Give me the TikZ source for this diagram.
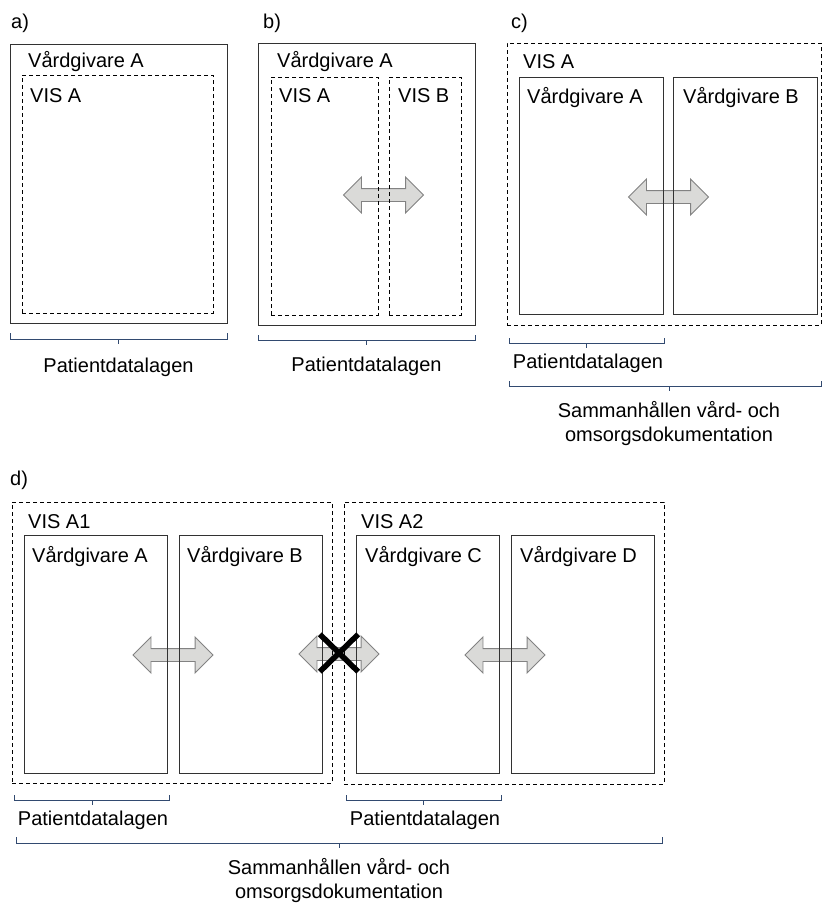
\documentclass[tikz,border=0pt]{standalone}
\usepackage{fontspec}
\setmainfont{Liberation Sans}
\usetikzlibrary{shapes.arrows}
\definecolor{boxline}{RGB}{50,50,50}
\definecolor{arrfill}{RGB}{218,218,216}
\definecolor{arrline}{RGB}{130,130,130}
\definecolor{brace}{RGB}{50,74,112}
\tikzset{
  solidbox/.style={draw=boxline, line width=1pt, inner sep=0pt, rectangle},
  dashbox/.style={draw=black, line width=0.9pt, dash pattern=on 4pt off 3pt, inner sep=0pt, rectangle},
  dblarr/.style={shape=double arrow, draw=arrline, fill=arrfill, line width=0.9pt, inner sep=6pt,
    double arrow head extend=11.5pt, minimum width=0pt, minimum height=80pt, double arrow tip angle=90},
  lbl/.style={inner sep=0pt, anchor=base west, font=\fontsize{20}{24}\selectfont},
  clbl/.style={inner sep=0pt, anchor=base, font=\fontsize{20}{24}\selectfont, align=center},
  bracepath/.style={draw=brace, line width=1pt},
  crossline/.style={draw=black, line width=5.5pt},
}
\newcommand{\mybrace}[5]{% x1 x2 xm ytop yline
  \draw[bracepath] (#1,#4) -- (#1,#5) -- (#2,#5) -- (#2,#4);
  \draw[bracepath] (#3,#5) -- (#3,#5+5);
}
\begin{document}
\begin{tikzpicture}[x=1pt,y=-1pt]
\useasboundingbox (0,0) rectangle (822,903);
% ---------- arrows (drawn first, boxes lie over them)
\node[dblarr] (barr) at (383.5,195) {};
\node[dblarr] (carr) at (668.5,197) {};
\node[dblarr] (dab) at (173,655) {};
\node[dblarr] (dbc) at (339,654) {};
\node[dblarr] (dcd) at (505,655) {};
% ---------- panel a
\node[lbl] (la) at (11,28) {a)};
\node[solidbox, minimum width=217pt, minimum height=279pt] (aout) at (118.5,183.5) {};
\node[dashbox, minimum width=191pt, minimum height=238pt] (avis) at (117.5,194) {};
\node[lbl] (aout-t) at (28,67) {Vårdgivare A};
\node[lbl] (avis-t) at (30,102) {VIS A};
\mybrace{10}{227}{118.5}{333}{339}
\node[clbl] (apdl) at (118.5,372) {Patientdatalagen};
% ---------- panel b
\node[lbl] (lb) at (263,28) {b)};
\node[solidbox, minimum width=217pt, minimum height=282pt] (bout) at (366.5,184) {};
\node[dashbox, minimum width=107pt, minimum height=238pt] (bvisa) at (324.5,196) {};
\node[dashbox, minimum width=72pt, minimum height=238pt] (bvisb) at (425,196) {};
\node[lbl] (bout-t) at (277,67) {Vårdgivare A};
\node[lbl] (bvisa-t) at (279,102) {VIS A};
\node[lbl] (bvisb-t) at (398,102) {VIS B};
\mybrace{258}{475}{366.5}{335}{340}
\node[clbl] (bpdl) at (366.5,371) {Patientdatalagen};
% ---------- panel c
\node[lbl] (lc) at (511,28) {c)};
\node[dashbox, minimum width=314pt, minimum height=282pt] (cvis) at (664,184) {};
\node[solidbox, minimum width=144pt, minimum height=237pt] (cva) at (591,195.5) {};
\node[solidbox, minimum width=144pt, minimum height=237pt] (cvb) at (745,195.5) {};
\node[lbl] (cvis-t) at (523,68) {VIS A};
\node[lbl] (cva-t) at (527,103) {Vårdgivare A};
\node[lbl] (cvb-t) at (683,103) {Vårdgivare B};
\mybrace{509}{664}{586.5}{338}{343}
\node[clbl] (cpdl) at (588,368) {Patientdatalagen};
\mybrace{509}{821}{669}{381}{386}
\node[clbl] (csvo1) at (669,417) {Sammanhållen vård- och};
\node[clbl] (csvo2) at (669,441) {omsorgsdokumentation};
% ---------- panel d
\node[lbl] (ld) at (10,485) {d)};
\node[dashbox, minimum width=320pt, minimum height=281pt] (dvis1) at (172,642.5) {};
\node[dashbox, minimum width=320pt, minimum height=282pt] (dvis2) at (504,643) {};
\node[solidbox, minimum width=143pt, minimum height=238pt] (dva) at (95.5,654) {};
\node[solidbox, minimum width=143pt, minimum height=238pt] (dvb) at (250.5,654) {};
\node[solidbox, minimum width=143pt, minimum height=238pt] (dvc) at (427.5,654) {};
\node[solidbox, minimum width=143pt, minimum height=238pt] (dvd) at (582.5,654) {};
\node[lbl] (dvis1-t) at (28,528) {VIS A1};
\node[lbl] (dvis2-t) at (361,528) {VIS A2};
\node[lbl] (dva-t) at (32,562) {Vårdgivare A};
\node[lbl] (dvb-t) at (187,562) {Vårdgivare B};
\node[lbl] (dvc-t) at (365,562) {Vårdgivare C};
\node[lbl] (dvd-t) at (520,562) {Vårdgivare D};
\node[inner sep=0pt, minimum width=38pt, minimum height=37pt] (dx) at (339,653) {};
\draw[crossline] (dx.north west) -- (dx.south east);
\draw[crossline] (dx.south west) -- (dx.north east);
\mybrace{14}{169}{92}{795}{800}
\node[clbl] (dpdl1) at (93,825) {Patientdatalagen};
\mybrace{346}{501}{423}{795}{800}
\node[clbl] (dpdl2) at (425,825) {Patientdatalagen};
\mybrace{16}{662}{339}{837}{843}
\node[clbl] (dsvo1) at (339,874) {Sammanhållen vård- och};
\node[clbl] (dsvo2) at (339,898) {omsorgsdokumentation};
\end{tikzpicture}
\end{document}
